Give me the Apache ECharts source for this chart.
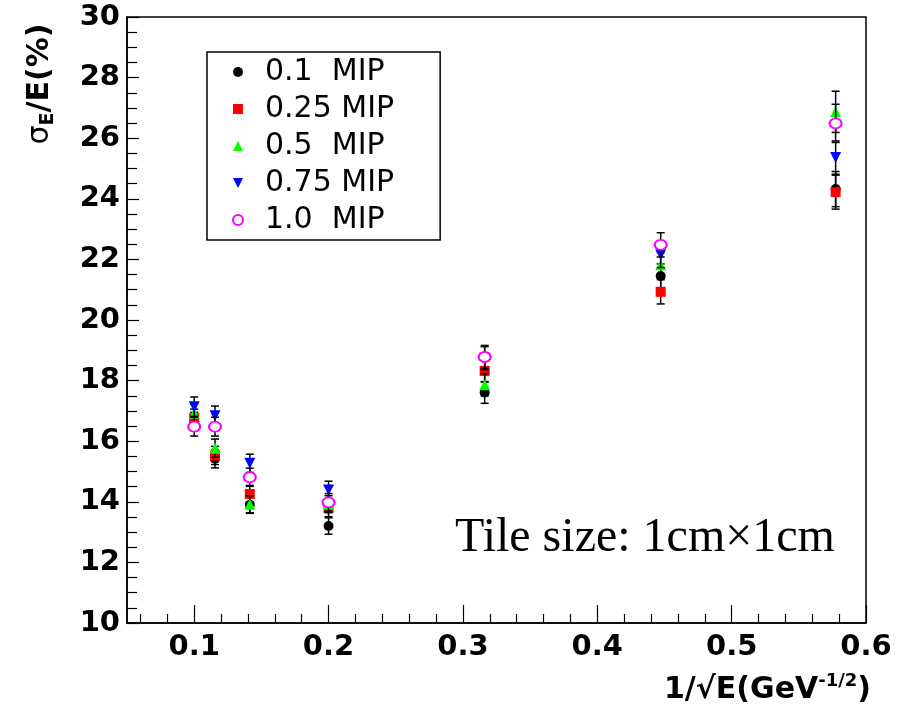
<!DOCTYPE html>
<html>
<head>
<meta charset="utf-8">
<script src="https://cdn.jsdelivr.net/npm/echarts@6/dist/echarts.min.js"></script>
<style>
  html, body { margin: 0; padding: 0; background: #fff; }
  #chart { width: 907px; height: 710px; }
</style>
</head>
<body>
<div id="chart"></div>
<script>
// 1/sqrt(E) for E = 100, 75, 50, 25, 10, 5, 3 GeV
const invSqrtE = [0.1, 0.1155, 0.1414, 0.2, 0.3162, 0.4472, 0.5774];

// resolution sigma_E/E (%) for each MIP threshold
const mip01 = [16.65, 15.42, 13.9, 13.2, 17.61, 21.45, 24.32];
const mip025 = [16.76, 15.53, 14.26, 13.79, 18.32, 20.93, 24.22];
const mip05 = [16.92, 15.77, 13.92, 13.92, 17.86, 21.82, 26.87];
const mip075 = [17.14, 16.84, 15.27, 14.39, 18.74, 22.15, 25.36];
const mip10 = [16.48, 16.48, 14.81, 13.98, 18.78, 22.48, 26.49];

// errors
const err01 = [0.3, 0.3, 0.28, 0.27, 0.36, 0.4, 0.58];
const err025 = [0.3, 0.3, 0.28, 0.28, 0.37, 0.4, 0.56];
const err05 = [0.31, 0.3, 0.28, 0.28, 0.37, 0.41, 0.68];
const err075 = [0.32, 0.32, 0.3, 0.29, 0.38, 0.42, 0.55];
const err10 = [0.31, 0.31, 0.3, 0.29, 0.38, 0.4, 0.63];

const names = ['0.1  MIP', '0.25 MIP', '0.5  MIP', '0.75 MIP', '1.0  MIP'];
const xTicks = [0.1, 0.2, 0.3, 0.4, 0.5, 0.6];

let xMinor = [];
for (let i = 3; i <= 30; i++) {
  if (i % 5 != 0) xMinor.push(i / 50);
}

const sets = [
  { y: mip01, e: err01, symbol: 'circle', size: 10, color: '#000000' },
  { y: mip025, e: err025, symbol: 'rect', size: 10, color: '#ff0000' },
  { y: mip05, e: err05, symbol: 'triangle', size: 11, color: '#00ff00' },
  { y: mip075, e: err075, symbol: 'path://M0,0L10,0L5,10Z', size: 11, color: '#0000ff' },
  { y: mip10, e: err10, symbol: 'emptyCircle', size: [12, 10], color: '#ff00ff' }
];

function renderBars(params, api) {
  let x = api.value(0), y = api.value(1), e = api.value(2);
  let top = api.coord([x, y + e]);
  let bot = api.coord([x, y - e]);
  let cap = 4;
  let st = { stroke: '#000', lineWidth: 1.5 };
  return {
    type: 'group',
    children: [
      { type: 'line', shape: { x1: top[0], y1: top[1], x2: bot[0], y2: bot[1] }, style: st },
      { type: 'line', shape: { x1: top[0] - cap, y1: top[1], x2: top[0] + cap, y2: top[1] }, style: st },
      { type: 'line', shape: { x1: bot[0] - cap, y1: bot[1], x2: bot[0] + cap, y2: bot[1] }, style: st }
    ]
  };
}

let series = [];
sets.forEach(function (s, i) {
  series.push({
    name: names[i] + ' err',
    type: 'custom',
    renderItem: renderBars,
    encode: { x: 0, y: 1 },
    z: 2 + i * 2,
    data: invSqrtE.map(function (x, k) { return [x, s.y[k], s.e[k]]; })
  });
  series.push({
    name: names[i],
    type: 'scatter',
    symbol: s.symbol,
    symbolSize: s.size,
    z: 3 + i * 2,
    itemStyle: s.symbol == 'emptyCircle'
      ? { color: s.color, borderColor: s.color, borderWidth: 1.5, opacity: 1 }
      : { color: s.color, opacity: 1 },
    data: invSqrtE.map(function (x, k) { return [x, s.y[k]]; })
  });
});

const labelFont = 'DejaVu Sans';

let myChart = echarts.init(document.getElementById('chart'));
let option = {
  animation: false,
  backgroundColor: '#fff',
  grid: {
    left: 127, top: 17, right: 41, bottom: 87,
    show: true, borderColor: '#000', borderWidth: 1.5, backgroundColor: 'transparent'
  },
  legend: {
    data: names,
    orient: 'vertical',
    left: 207,
    top: 52,
    padding: [5, 46, 5, 25],
    itemWidth: 10,
    itemHeight: 10,
    itemGap: 7,
    borderColor: '#000',
    borderWidth: 1.5,
    backgroundColor: '#fff',
    textStyle: {
      fontFamily: labelFont, fontSize: 30, lineHeight: 30, color: '#000',
      padding: [0, 0, 0, 17]
    }
  },
  xAxis: [
    {
      type: 'value', min: 0.05, max: 0.6, position: 'bottom',
      axisLine: { lineStyle: { color: '#000', width: 1.5 } },
      axisTick: { inside: true, length: 18, customValues: xTicks, lineStyle: { color: '#000', width: 1.2 } },
      axisLabel: {
        customValues: xTicks, margin: 10, color: '#000',
        fontFamily: labelFont, fontWeight: 'bold', fontSize: 29
      },
      splitLine: { show: false }
    },
    {
      type: 'value', min: 0.05, max: 0.6, position: 'bottom',
      axisLine: { show: false },
      axisTick: { inside: true, length: 9, customValues: xMinor, lineStyle: { color: '#000', width: 1.2 } },
      axisLabel: { show: false },
      splitLine: { show: false }
    }
  ],
  yAxis: {
    type: 'value', min: 10, max: 30, interval: 2,
    axisLine: { lineStyle: { color: '#000', width: 1.5 } },
    axisTick: { inside: true, length: 12, lineStyle: { color: '#000', width: 1.2 } },
    minorTick: { show: true, splitNumber: 4, length: 10, lineStyle: { color: '#000', width: 1.2 } },
    axisLabel: { margin: 7, color: '#000', fontFamily: labelFont, fontWeight: 'bold', fontSize: 29 },
    splitLine: { show: false }
  },
  graphic: [
    {
      type: 'text',
      x: 40, y: 84,
      rotation: Math.PI / 2,
      style: {
        text: '{s|σ}{sub|E}{b|/E(%)}',
        align: 'center',
        verticalAlign: 'middle',
        rich: {
          s: { fontFamily: 'DejaVu Sans', fontSize: 30, fill: '#000', lineHeight: 36, verticalAlign: 'middle' },
          sub: { fontFamily: labelFont, fontWeight: 'bold', fontSize: 19, fill: '#000', lineHeight: 36, verticalAlign: 'bottom' },
          b: { fontFamily: labelFont, fontWeight: 'bold', fontSize: 30, fill: '#000', lineHeight: 36, verticalAlign: 'middle' }
        }
      }
    },
    {
      type: 'text',
      right: 36, top: 672,
      style: {
        text: '{b|1/√E(GeV}{sup|-1/2}{b|)}',
        rich: {
          b: { fontFamily: labelFont, fontWeight: 'bold', fontSize: 30, fill: '#000', lineHeight: 36, verticalAlign: 'middle' },
          sup: { fontFamily: labelFont, fontWeight: 'bold', fontSize: 18, fill: '#000', lineHeight: 36, verticalAlign: 'top' }
        }
      }
    },
    {
      type: 'text',
      left: 455, top: 514,
      style: { text: 'Tile size: 1cm×1cm', fontFamily: 'Liberation Serif', fontSize: 48, fill: '#000' }
    }
  ],
  series: series
};
myChart.setOption(option);
</script>
</body>
</html>
